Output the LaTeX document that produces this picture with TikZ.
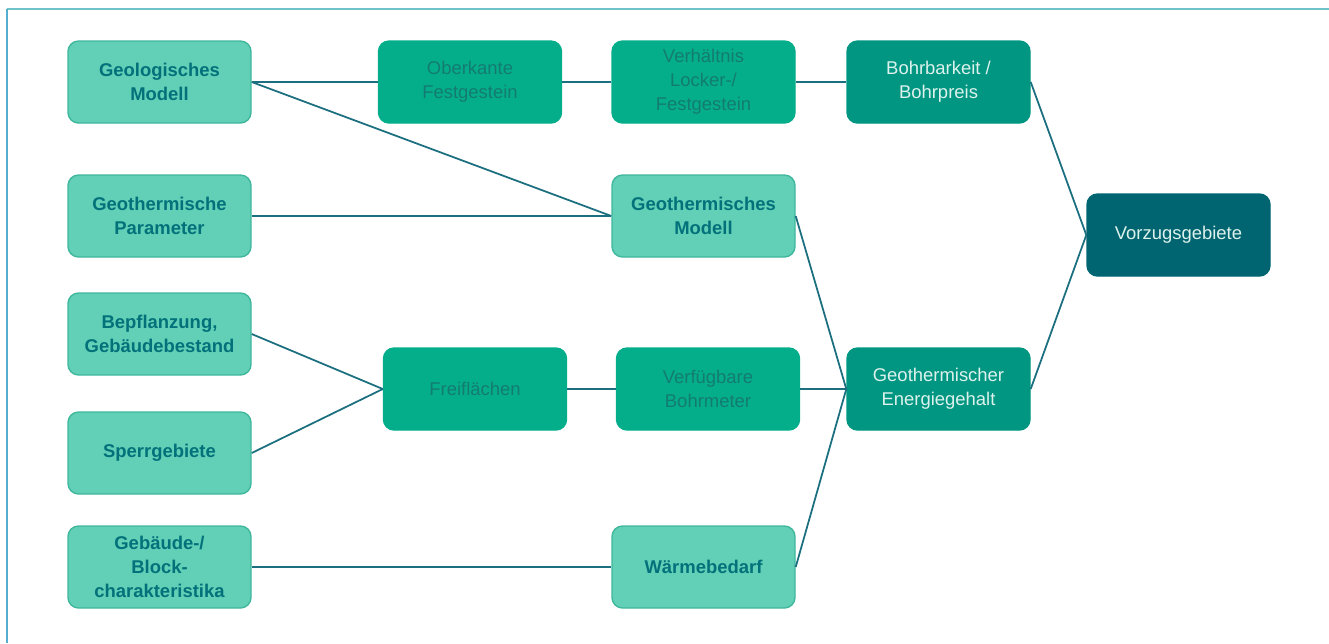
\documentclass[tikz,border=0pt]{standalone}
\usepackage{fontspec}
\setmainfont{Liberation Sans}
\usepackage{tikz}
\usetikzlibrary{positioning}

\definecolor{mint}{HTML}{62D0B6}
\definecolor{mintline}{HTML}{3FB79D}
\definecolor{mintdark}{HTML}{05AE8A}
\definecolor{teal}{HTML}{009682}
\definecolor{petrol}{HTML}{006570}
\definecolor{wire}{HTML}{1B6F7E}
\definecolor{textdark}{HTML}{03717A}
\definecolor{textmid}{HTML}{137C72}
\definecolor{textlight}{HTML}{DDF2EC}
\definecolor{frametop}{HTML}{6EC3CB}
\definecolor{frameleft}{HTML}{55AECF}

\begin{document}
\begin{tikzpicture}
	\tikzstyle{box}=[rectangle, rounded corners=6pt, minimum width=3.66cm, minimum height=1.64cm, align=center, font=\fontsize{10.5}{13.6}\selectfont, line width=0.8pt]
	\tikzstyle{light}=[box, fill=mint, draw=mintline, text=textdark, font=\fontsize{10.5}{13.6}\selectfont\bfseries]
	\tikzstyle{mid}=[box, fill=mintdark, draw=mintdark, text=textmid]
	\tikzstyle{dark}=[box, fill=teal, draw=teal, text=textlight]
	\tikzstyle{darkest}=[box, fill=petrol, draw=petrol, text=textlight]
	\tikzstyle{wire}=[draw=wire, line width=1pt]

	\useasboundingbox (0,0) rectangle (26.58,-12.86);
	\draw [frametop, line width=1.2pt] (0.14,-0.18) -- (26.58,-0.18);
	\draw [frameleft, line width=0.6pt] (0.14,-0.18) -- (0.14,-12.86);

	% Inputs
	\node at (3.19, -1.64) [light] (geo) {Geologisches\\Modell};
	\node at (3.19, -4.32) [light] (param) {Geothermische\\Parameter};
	\node at (3.19, -6.68) [light] (plant) {Bepflanzung,\\Gebäudebestand};
	\node at (3.19, -9.06) [light] (sperr) {Sperrgebiete};
	\node at (3.19, -11.34) [light] (block) {Gebäude-/\\Block-\\charakteristika};

	% Intermediate
	\node at (9.40, -1.64) [mid] (oberk) {Oberkante\\Festgestein};
	\node at (9.50, -7.78) [mid] (frei) {Freiflächen};
	\node at (14.07, -1.64) [mid] (verh) {Verhältnis\\Locker-/\\Festgestein};
	\node at (14.07, -4.32) [light] (gmod) {Geothermisches\\Modell};
	\node at (14.16, -7.78) [mid] (bohrm) {Verfügbare\\Bohrmeter};
	\node at (14.07, -11.34) [light] (waerme) {Wärmebedarf};

	% Results
	\node at (18.77, -1.64) [dark] (bohrb) {Bohrbarkeit /\\Bohrpreis};
	\node at (18.77, -7.78) [dark] (energie) {Geothermischer\\Energiegehalt};
	\node at (23.57, -4.70) [darkest] (vorz) {Vorzugsgebiete};

	% Connections
	\draw [wire] (geo.east) -- (oberk.west);
	\draw [wire] (oberk.east) -- (verh.west);
	\draw [wire] (verh.east) -- (bohrb.west);
	\draw [wire] (geo.east) -- (gmod.west);
	\draw [wire] (param.east) -- (gmod.west);
	\draw [wire] (plant.east) -- (frei.west);
	\draw [wire] (sperr.east) -- (frei.west);
	\draw [wire] (frei.east) -- (bohrm.west);
	\draw [wire] (block.east) -- (waerme.west);
	\foreach \src in {gmod, bohrm, waerme}
		\draw [wire] (\src.east) -- (energie.west);
	\foreach \src in {bohrb, energie}
		\draw [wire] (\src.east) -- (vorz.west);
\end{tikzpicture}
\end{document}
